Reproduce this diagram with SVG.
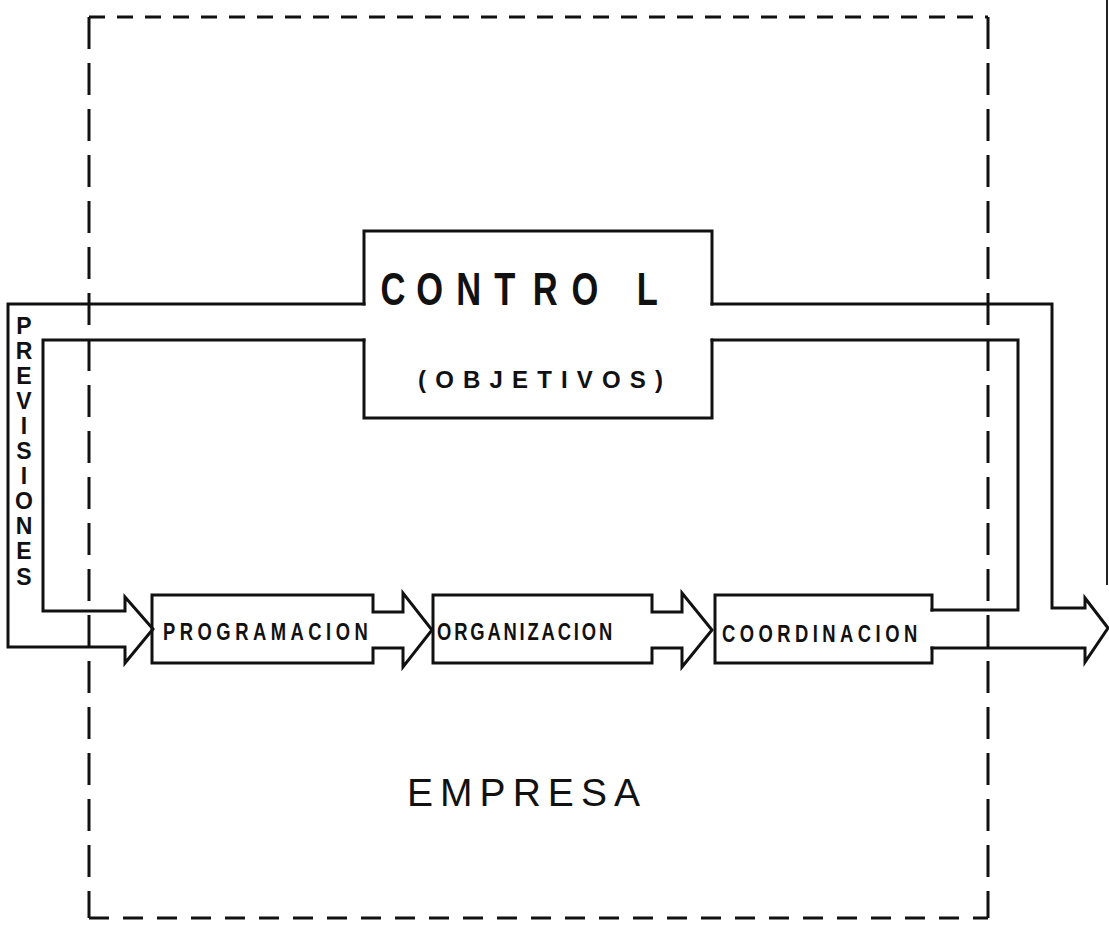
<svg xmlns="http://www.w3.org/2000/svg" width="1109" height="936" viewBox="0 0 1109 936">
<style>
.ln{fill:none;stroke:#111;stroke-width:3;stroke-linejoin:miter;stroke-linecap:square}
.dash{fill:none;stroke:#111;stroke-width:3}
.b{font-family:"Liberation Sans",Arial,sans-serif;font-weight:bold;fill:#111}
.r{font-family:"Liberation Sans",Arial,sans-serif;fill:#111}
</style>
<rect width="1109" height="936" fill="#fff"/>
<line x1="1107" y1="0" x2="1107" y2="585" stroke="#222" stroke-width="2"/>
<g id="empresa">
<line class="dash" x1="89" y1="17" x2="988" y2="17" stroke-dasharray="16 12"/>
<line class="dash" x1="89" y1="17" x2="89" y2="918" stroke-dasharray="32 14"/>
<line class="dash" x1="988" y1="17" x2="988" y2="918" stroke-dasharray="32 14"/>
<line class="dash" x1="89" y1="918" x2="988" y2="918" stroke-dasharray="20 14"/>
<text class="r" x="407" y="806" font-size="39" textLength="233" lengthAdjust="spacing">EMPRESA</text>
</g>
<g id="control">
<path class="ln" d="M364,304 V231 H712 V304 M712,340 V418 H364 V340"/>
<text class="b" font-size="46" y="305" text-anchor="middle" transform="scale(0.75,1)"><tspan x="524">C</tspan><tspan x="573">O</tspan><tspan x="625">N</tspan><tspan x="673">T</tspan><tspan x="727">R</tspan><tspan x="780">O</tspan><tspan x="863">L</tspan></text>
<text class="b" font-size="24" x="418" y="388" textLength="245" lengthAdjust="spacing">(OBJETIVOS)</text>
</g>
<g id="programacion">
<path class="ln" d="M152,595 H373 V612 H403 V593 L432,630 L403,667 V648 H373 V663 H152 Z"/>
<text class="b" font-size="23" x="203.75" y="640" textLength="256" lengthAdjust="spacing" transform="scale(0.8,1)">PROGRAMACION</text>
</g>
<g id="organizacion">
<path class="ln" d="M433,595 H652 V612 H682 V593 L712,630 L682,667 V648 H652 V663 H433 Z"/>
<text class="b" font-size="23" x="546.25" y="640" textLength="219" lengthAdjust="spacing" transform="scale(0.8,1)">ORGANIZACION</text>
</g>
<g id="coordinacion">
<path class="ln" d="M932,610 V595 H715 V663 H932 V648"/>
<text class="b" font-size="23" x="902.5" y="642" textLength="244" lengthAdjust="spacing" transform="scale(0.8,1)">COORDINACION</text>
</g>
<g id="connectors">
<path class="ln" d="M364,304 H8 V647 H125 V663 L153,629 L125,597 V611 H43 V340 H364"/>
<path class="ln" d="M712,304 H1052 V608 H1085 V598 L1108,628 L1085,662 V648 H932"/>
<path class="ln" d="M712,340 H1018 V610 H932"/>
<text class="b" font-size="23" text-anchor="middle"><tspan x="24" y="334">P</tspan><tspan x="24" y="359">R</tspan><tspan x="24" y="384">E</tspan><tspan x="24" y="409">V</tspan><tspan x="24" y="434">I</tspan><tspan x="24" y="459">S</tspan><tspan x="24" y="484">I</tspan><tspan x="24" y="509">O</tspan><tspan x="24" y="534">N</tspan><tspan x="24" y="559">E</tspan><tspan x="24" y="585">S</tspan></text>
</g>
</svg>
